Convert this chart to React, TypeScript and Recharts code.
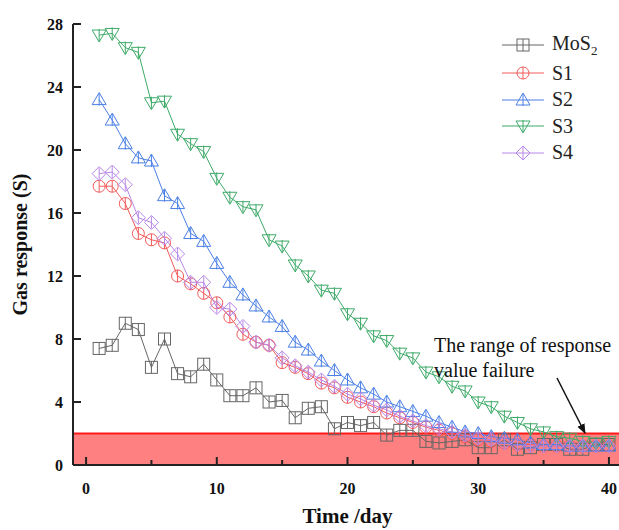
import React from "react";
import {
  LineChart,
  Line,
  XAxis,
  YAxis,
  ReferenceArea,
  ReferenceLine,
} from "recharts";

const days = Array.from({ length: 40 }, (_, i) => i + 1);

const mos2 = [7.4, 7.6, 9.0, 8.6, 6.2, 8.0, 5.8, 5.6, 6.4, 5.4, 4.4, 4.4, 4.9, 4.0, 4.1, 3.0, 3.6, 3.7, 2.3, 2.7, 2.5, 2.7, 1.9, 2.2, 2.2, 1.5, 1.4, 1.5, 1.6, 1.1, 1.1, 1.6, 1.0, 1.1, 1.3, 1.3, 1.0, 1.0, 1.3, 1.3];
const s1 = [17.7, 17.7, 16.6, 14.7, 14.3, 14.1, 12.0, 11.5, 10.9, 10.3, 9.4, 8.3, 7.8, 7.6, 6.5, 6.2, 5.8, 5.2, 4.9, 4.3, 4.0, 3.7, 3.3, 3.0, 2.7, 2.4, 2.2, 2.0, 1.8, 1.6, 1.5, 1.4, 1.3, 1.3, 1.2, 1.2, 1.2, 1.2, 1.2, 1.2];
const s2 = [23.2, 21.9, 20.4, 19.5, 19.3, 17.1, 16.6, 14.7, 14.2, 12.8, 11.6, 10.8, 10.1, 9.4, 8.8, 7.8, 7.3, 6.6, 6.0, 5.4, 4.9, 4.5, 4.0, 3.7, 3.4, 3.1, 2.7, 2.4, 2.1, 2.0, 1.8, 1.7, 1.6, 1.4, 1.3, 1.3, 1.2, 1.2, 1.2, 1.2];
const s3 = [27.3, 27.4, 26.5, 26.2, 23.0, 23.1, 21.0, 20.4, 19.9, 18.2, 17.0, 16.4, 16.2, 14.3, 13.9, 12.7, 12.0, 11.1, 10.9, 9.6, 9.0, 8.2, 7.9, 7.1, 6.8, 5.9, 5.6, 5.0, 4.7, 4.0, 3.7, 3.1, 2.7, 2.3, 2.1, 1.8, 1.7, 1.5, 1.4, 1.5];
const s4 = [18.5, 18.6, 17.8, 15.7, 15.4, 14.4, 13.4, 11.6, 11.6, 10.0, 9.9, 8.8, 7.8, 7.6, 6.8, 6.3, 5.9, 5.4, 5.0, 4.5, 4.2, 3.8, 3.5, 3.1, 2.8, 2.5, 2.3, 2.1, 1.9, 1.7, 1.6, 1.4, 1.3, 1.2, 1.2, 1.2, 1.2, 1.2, 1.2, 1.2];

const xTicks = [0, 5, 10, 15, 20, 25, 30, 35, 40];
const yTicks = [0, 4, 8, 12, 16, 20, 24, 28];

const data = days.map((d, i) => ({
  day: d,
  mos2: mos2[i],
  s1: s1[i],
  s2: s2[i],
  s3: s3[i],
  s4: s4[i],
}));

const series = [
  { key: "mos2", name: "MoS2", color: "#666666", shape: "square" },
  { key: "s1", name: "S1", color: "#f25a5a", shape: "circle" },
  { key: "s2", name: "S2", color: "#4a7fe6", shape: "up" },
  { key: "s3", name: "S3", color: "#3daa68", shape: "down" },
  { key: "s4", name: "S4", color: "#b888e8", shape: "diamond" },
];

const FONT = "'Liberation Serif', 'Times New Roman', serif";
const AXIS = "#222";

function Marker({ cx, cy, shape, color }: any) {
  const r = 6;
  const common = { fill: "none", stroke: color, strokeWidth: 1 };
  if (shape === "square")
    return (
      <g>
        <rect x={cx - r} y={cy - r} width={2 * r} height={2 * r} {...common} />
        <line x1={cx} x2={cx} y1={cy - r} y2={cy + r} {...common} />
      </g>
    );
  if (shape === "circle")
    return (
      <g>
        <circle cx={cx} cy={cy} r={r} {...common} />
        <line x1={cx} x2={cx} y1={cy - r} y2={cy + r} {...common} />
      </g>
    );
  if (shape === "up")
    return (
      <g>
        <path d={`M${cx},${cy - r - 1}L${cx + r + 1},${cy + r - 1}L${cx - r - 1},${cy + r - 1}Z`} {...common} />
        <line x1={cx} x2={cx} y1={cy - r} y2={cy + r} {...common} />
      </g>
    );
  if (shape === "down")
    return (
      <g>
        <path d={`M${cx},${cy + r + 1}L${cx + r + 1},${cy - r + 1}L${cx - r - 1},${cy - r + 1}Z`} {...common} />
        <line x1={cx} x2={cx} y1={cy - r} y2={cy + r} {...common} />
      </g>
    );
  return (
    <g>
      <path d={`M${cx},${cy - r - 1}L${cx + r + 1},${cy}L${cx},${cy + r + 1}L${cx - r - 1},${cy}Z`} {...common} />
      <line x1={cx} x2={cx} y1={cy - r} y2={cy + r} {...common} />
    </g>
  );
}

function XTick({ x, y, payload }: any) {
  const major = payload.value % 10 === 0;
  return (
    <g>
      <line x1={x} x2={x} y1={y} y2={y - (major ? 8 : 5)} stroke={AXIS} strokeWidth={2} />
      {major && (
        <text x={x} y={y + 29} textAnchor="middle" fontFamily={FONT} fontWeight="bold" fontSize={16} fill="#111">
          {payload.value}
        </text>
      )}
    </g>
  );
}

function YTick({ x, y, payload }: any) {
  return (
    <g>
      <line x1={x} x2={x + 8} y1={y} y2={y} stroke={AXIS} strokeWidth={2} />
      <text x={x - 10} y={y + 6} textAnchor="end" fontFamily={FONT} fontWeight="bold" fontSize={16} fill="#111">
        {payload.value}
      </text>
    </g>
  );
}

function LegendBox() {
  return (
    <div style={{ position: "absolute", left: 502, top: 30, fontFamily: FONT, fontSize: 20, color: "#222" }}>
      {series.map((s, i) => (
        <div key={s.key} style={{ display: "flex", alignItems: "center", height: i === 0 ? 30 : 26.5 }}>
          <svg width={44} height={16} style={{ marginRight: 6 }}>
            <line x1={0} x2={42} y1={8} y2={8} stroke={s.color} strokeWidth={1} />
            <Marker cx={21} cy={8} shape={s.shape} color={s.color} />
          </svg>
          <span>
            {s.key === "mos2" ? (
              <>
                MoS<sub style={{ fontSize: 13 }}>2</sub>
              </>
            ) : (
              s.name
            )}
          </span>
        </div>
      ))}
    </div>
  );
}

export default function App() {
  return (
    <div style={{ position: "absolute", left: 0, top: 0, width: 619, height: 530, overflow: "hidden", background: "#fff" }}>
      <LineChart width={625} height={530} data={data} margin={{ top: 24, right: 3, left: 0, bottom: 0 }}>
        <ReferenceArea y1={0} y2={2} x1={-1} x2={41} fill="#ff8080" fillOpacity={1} stroke="none" ifOverflow="hidden" />
        <ReferenceLine y={2} stroke="#ff1a1a" strokeWidth={2} />
        <XAxis
          dataKey="day"
          type="number"
          domain={[-1, 41]}
          ticks={xTicks}
          allowDataOverflow
          height={65}
          tickSize={0}
          tickMargin={0}
          tick={<XTick />}
          axisLine={{ stroke: AXIS, strokeWidth: 2 }}
          label={{ value: "Time /day", position: "insideBottom", offset: 7, fontFamily: FONT, fontWeight: "bold", fontSize: 21, fill: "#111" }}
        />
        <XAxis xAxisId="top" orientation="top" dataKey="day" type="number" domain={[-1, 41]} height={0} tick={false} tickLine={false} axisLine={{ stroke: AXIS, strokeWidth: 2 }} />
        <YAxis
          type="number"
          domain={[0, 28]}
          ticks={yTicks}
          width={73}
          tickSize={0}
          tickMargin={0}
          tick={<YTick />}
          axisLine={{ stroke: AXIS, strokeWidth: 2 }}
          label={{ value: "Gas response (S)", angle: -90, position: "insideLeft", offset: 20, style: { textAnchor: "middle" }, fontFamily: FONT, fontWeight: "bold", fontSize: 20, fill: "#111" }}
        />
        {series.map((s) => (
          <Line
            key={s.key}
            dataKey={s.key}
            name={s.name}
            stroke={s.color}
            strokeWidth={1}
            isAnimationActive={false}
            dot={(p: any) => <Marker key={`${s.key}-${p.index}`} cx={p.cx} cy={p.cy} shape={s.shape} color={s.color} />}
            activeDot={false}
          />
        ))}
      </LineChart>
      <LegendBox />
      <svg width={619} height={530} style={{ position: "absolute", left: 0, top: 0, pointerEvents: "none" }}>
        <defs>
          <marker id="arrow" markerWidth={10} markerHeight={10} refX={9} refY={5} orient="auto" markerUnits="userSpaceOnUse">
            <path d="M0,1L10,5L0,9Z" fill="#111" />
          </marker>
        </defs>
        <text x={434} y={352} fontFamily={FONT} fontSize={20} fill="#111">The range of response</text>
        <text x={434} y={377} fontFamily={FONT} fontSize={20} fill="#111">value failure</text>
        <line x1={557} y1={378} x2={585} y2={433} stroke="#111" strokeWidth={1.5} markerEnd="url(#arrow)" />
      </svg>
    </div>
  );
}
